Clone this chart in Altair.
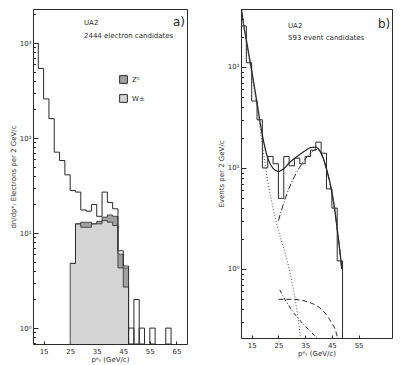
import altair as alt
import pandas as pd

BW = 2.0
FONT = "DejaVu Sans"
INK = "#2a2a2a"

# ---------------- panel a : electron candidates ----------------
A_LO = [11, 13, 15, 17, 19, 21, 23, 25, 27, 29, 31, 33, 35, 37, 39, 41, 43, 45]
A_TOTAL = [990, 540, 258, 160, 71, 58, 41, 28, 27, 17.5, 17, 20, 15, 27, 21, 18, 6.5, 4.5]
A_SIG_LO = [25, 27, 29, 31, 33, 35, 37, 39, 41, 43, 45]
A_W = [4.8, 12.5, 11.5, 11.5, 12.5, 12.5, 13.5, 13, 12, 4.3, 2.7]
A_Z = [0, 0, 1.5, 1.5, 0, 0.8, 1.2, 2.5, 3, 1.7, 1.6]
A_TAIL_LO = [47, 49, 51, 55, 61]
A_TAIL_N = [1, 2, 1, 1, 1]
A_XDOM = [11, 69]
A_YDOM = [0.68, 2280]
A_XLAB = [15, 25, 35, 45, 55, 65]

# ---------------- panel b : event candidates ----------------
B_LO = [11, 13, 15, 17, 19, 21, 23, 25, 27, 29, 31, 33, 35, 37, 39, 41, 43, 45, 47]
B_N = [255, 110, 46, 30, 10, 13, 11, 5, 13, 10.5, 12.5, 11, 13, 15, 18, 14, 6.2, 4, 1.2]
FIT_X = [11.2, 12, 13, 14, 15, 17, 19, 21, 23, 25, 27, 29, 31, 33, 35, 37, 39, 41, 43, 45, 46, 47, 48, 48.7]
FIT_Y = [370, 260, 185, 130, 92, 44, 21, 12.5, 9.9, 9.2, 9.8, 11.2, 12.4, 13.6, 14.8, 15.9, 16.1, 14.0, 9.8, 5.8, 4.0, 2.5, 1.5, 1.0]
BKG_X = [11.2, 13, 15, 17, 19, 21, 23, 25, 27, 29, 31, 32.5, 33.3]
BKG_Y = [360, 175, 85, 40, 17, 7.4, 4.0, 2.4, 1.6, 1.0, 0.55, 0.3, 0.207]
WC_X = [25, 27, 29, 31, 33, 35, 37, 39, 40, 41, 43, 45, 47, 48.7]
WC_Y = [3.0, 4.5, 6.3, 8.2, 10.2, 12.2, 14.0, 15.2, 15.0, 13.8, 9.7, 5.7, 2.5, 1.0]
CA_X = [25, 30, 35, 38, 41, 43, 45, 46.5, 47.1]
CA_Y = [0.5, 0.5, 0.48, 0.45, 0.4, 0.35, 0.29, 0.24, 0.207]
CB_X = [25.5, 28, 31, 34, 37, 39.6]
CB_Y = [0.62, 0.47, 0.36, 0.29, 0.24, 0.207]
B_XDOM = [11, 67.5]
B_YDOM = [0.207, 375]
B_XLAB = [15, 25, 35, 45, 55]

AW, AH = 154, 335
BWID, BH = 151, 329


def step_df(lo, vals, floor=None, start_floor=False):
    xs, ys = [], []
    if start_floor:
        xs.append(lo[0]); ys.append(floor)
    for x, v in zip(lo, vals):
        xs.append(x); ys.append(v)
    xs.append(lo[-1] + BW); ys.append(vals[-1])
    if floor is not None:
        xs.append(lo[-1] + BW); ys.append(floor)
    return pd.DataFrame({"x": xs, "y": ys, "o": list(range(len(xs)))})


def decade_ticks(lo, hi):
    vals = []
    for d in [0.1, 1, 10, 100, 1000]:
        for m in range(1, 10):
            v = round(m * d, 6)
            if lo <= v <= hi:
                vals.append(v)
    return vals


LABEL_EXPR = ("datum.value==1?'10⁰':datum.value==10?'10¹':datum.value==100?'10²':"
              "datum.value==1000?'10³':''")
MAJOR = "indexof([1,10,100,1000], datum.value) >= 0"


def xs(dom, axis=None):
    return alt.X("x:Q", scale=alt.Scale(domain=dom, nice=False, zero=False), axis=axis)


def ys(dom, axis=None, field="y"):
    return alt.Y(f"{field}:Q", scale=alt.Scale(type="log", domain=dom, nice=False), axis=axis)


def label_axes(xlab, xtitle, ytitle):
    xa = alt.Axis(values=xlab, ticks=False, domain=False, labelPadding=3, title=xtitle,
                  titlePadding=1, labelFontSize=7, titleFontSize=7, labelFont=FONT,
                  titleFont=FONT, titleFontWeight="normal", labelColor=INK, titleColor=INK,
                  grid=False)
    ya = alt.Axis(values=[1, 10, 100, 1000], ticks=False, domain=False, labelExpr=LABEL_EXPR,
                  labelPadding=2, title=ytitle, titlePadding=3, labelFontSize=7,
                  titleFontSize=7, labelFont=FONT, titleFont=FONT, titleFontWeight="normal",
                  labelColor=INK, titleColor=INK, grid=False)
    return xa, ya


def tick_axes(xlab, w, h, ydom):
    xa = alt.Axis(orient="top", offset=-h, values=xlab, labels=False, domain=False,
                  tickSize=3, tickColor=INK, title=None, grid=False)
    ya = alt.Axis(orient="right", offset=-w, values=decade_ticks(*ydom), labels=False,
                  domain=False, tickColor=INK, title=None, grid=False,
                  tickSize={"condition": {"test": MAJOR, "value": 5}, "value": 2.5})
    return xa, ya


# ---------------- build panel a ----------------
xa_l, ya_l = label_axes(A_XLAB, "pᵉₜ   (GeV/c)", "dn/dpᵉₜ   Electrons per 2 GeV/c")
xa_t, ya_t = tick_axes(A_XLAB, AW, AH, A_YDOM)

tot_a = step_df(A_LO, A_TOTAL, floor=A_YDOM[0])
line_tot_a = alt.Chart(tot_a).mark_line(interpolate="step-after", color=INK, strokeWidth=1).encode(
    x=xs(A_XDOM, xa_l), y=ys(A_YDOM, ya_l), order="o:Q")

wz = [w + z for w, z in zip(A_W, A_Z)]
sig = pd.DataFrame({
    "x": A_SIG_LO + [A_SIG_LO[-1] + BW],
    "w": A_W + [A_W[-1]],
    "wz": wz + [wz[-1]],
    "floor": [A_YDOM[0]] * (len(A_SIG_LO) + 1),
})
sig["cw"] = "W±"
sig["cz"] = "Z⁰"
color_scale = alt.Scale(domain=["Z⁰", "W±"], range=["#a0a0a0", "#d4d4d4"])
legend = alt.Legend(orient="none", legendX=86, legendY=66, title=None, symbolType="square",
                    symbolSize=60, symbolStrokeColor=INK, symbolStrokeWidth=1,
                    labelFontSize=7, labelFont=FONT, labelColor=INK, rowPadding=6)
area_w = alt.Chart(sig).mark_area(interpolate="step-after").encode(
    x=xs(A_XDOM, xa_t), y=ys(A_YDOM, ya_t, "w"), y2="floor:Q",
    color=alt.Color("cw:N", scale=color_scale, legend=legend))
area_z = alt.Chart(sig).mark_area(interpolate="step-after").encode(
    x=xs(A_XDOM), y=ys(A_YDOM, None, "wz"), y2="w:Q",
    color=alt.Color("cz:N", scale=color_scale, legend=legend))

w_line = step_df(A_SIG_LO, A_W, floor=A_YDOM[0], start_floor=True)
wz_line = step_df(A_SIG_LO, wz)
line_w = alt.Chart(w_line).mark_line(interpolate="step-after", color=INK, strokeWidth=0.8).encode(
    x=xs(A_XDOM), y=ys(A_YDOM), order="o:Q")
line_wz = alt.Chart(wz_line).mark_line(interpolate="step-after", color=INK, strokeWidth=0.8).encode(
    x=xs(A_XDOM), y=ys(A_YDOM), order="o:Q")

tail = pd.DataFrame({"x": A_TAIL_LO, "x2": [v + BW for v in A_TAIL_LO], "y": A_TAIL_N,
                     "floor": [A_YDOM[0]] * len(A_TAIL_LO)})
bars_tail = alt.Chart(tail).mark_bar(fill="white", fillOpacity=0, stroke=INK, strokeWidth=1).encode(
    x=xs(A_XDOM), x2="x2:Q", y=ys(A_YDOM), y2="floor:Q")

txt_a = pd.DataFrame({"t": ["UA2", "2444 electron candidates"], "px": [51, 51], "py": [14, 27]})
text_a = alt.Chart(txt_a).mark_text(align="left", baseline="middle", font=FONT, fontSize=7,
                                    color=INK).encode(x=alt.X("px:Q", scale=None),
                                                      y=alt.Y("py:Q", scale=None), text="t:N")
tag_a = alt.Chart(pd.DataFrame({"t": ["a)"]})).mark_text(
    align="left", baseline="middle", font=FONT, fontSize=12, color=INK).encode(
    x=alt.value(140), y=alt.value(13), text="t:N")

panel_a = alt.layer(area_w, area_z, line_w, line_wz, line_tot_a, bars_tail, text_a, tag_a).resolve_axis(
    x="independent", y="independent").properties(width=AW, height=AH)

# ---------------- build panel b ----------------
xb_l, yb_l = label_axes(B_XLAB, "pᵉₜ   (GeV/c)", "Events per 2 GeV/c")
xb_t, yb_t = tick_axes(B_XLAB, BWID, BH, B_YDOM)

tot_b = step_df(B_LO, B_N, floor=B_YDOM[0])
line_tot_b = alt.Chart(tot_b).mark_line(interpolate="step-after", color=INK, strokeWidth=1).encode(
    x=xs(B_XDOM, xb_l), y=ys(B_YDOM, yb_l), order="o:Q")


def curve(xv, yv, dash, width, color=INK, axes=(None, None)):
    df = pd.DataFrame({"x": xv, "y": yv})
    kw = dict(interpolate="monotone", color=color, strokeWidth=width, clip=True)
    if dash:
        kw["strokeDash"] = dash
    return alt.Chart(df).mark_line(**kw).encode(x=xs(B_XDOM, axes[0]), y=ys(B_YDOM, axes[1]))


fit = curve(FIT_X, FIT_Y, None, 1.3, axes=(xb_t, yb_t))
bkg = curve(BKG_X, BKG_Y, [1, 2], 1.0, color="#555")
wcur = curve(WC_X, WC_Y, [6, 2, 1, 2], 1.0)
cur_a = curve(CA_X, CA_Y, [5, 3], 1.0)
cur_b = curve(CB_X, CB_Y, [4, 2, 1, 2], 1.0)

txt_b = pd.DataFrame({"t": ["UA2", "593 event candidates"], "px": [47, 47], "py": [17, 29]})
text_b = alt.Chart(txt_b).mark_text(align="left", baseline="middle", font=FONT, fontSize=7,
                                    color=INK).encode(x=alt.X("px:Q", scale=None),
                                                      y=alt.Y("py:Q", scale=None), text="t:N")
tag_b = alt.Chart(pd.DataFrame({"t": ["b)"]})).mark_text(
    align="left", baseline="middle", font=FONT, fontSize=12, color=INK).encode(
    x=alt.value(137), y=alt.value(15), text="t:N")

panel_b = alt.layer(line_tot_b, fit, bkg, wcur, cur_a, cur_b, text_b, tag_b).resolve_axis(
    x="independent", y="independent").properties(width=BWID, height=BH)

chart = alt.hconcat(panel_a, panel_b, spacing=28).properties(
    padding={"left": 0, "top": 0, "right": 0, "bottom": 0},
    background="white",
).configure_view(stroke=INK, strokeWidth=1).configure_concat(spacing=28)

chart.save("out.html", embed_options={"renderer": "svg", "actions": False})
